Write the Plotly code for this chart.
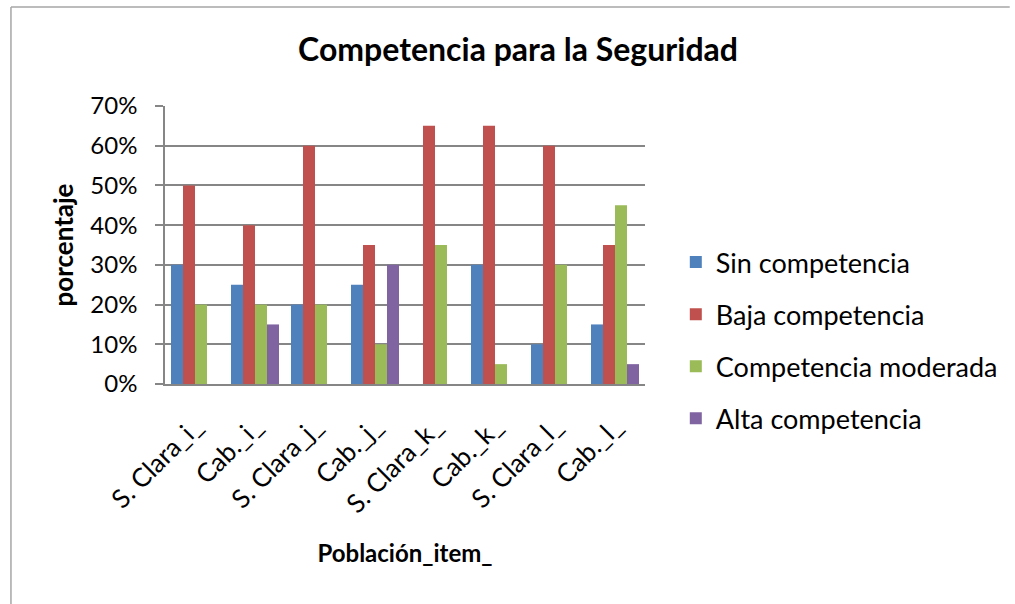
import plotly.graph_objects as go

categories = ["S. Clara_i_", "Cab._i_", "S. Clara_j_", "Cab._j_",
              "S. Clara_k_", "Cab._k_", "S. Clara_l_", "Cab._l_"]
sin_comp = [0.30, 0.25, 0.20, 0.25, 0.00, 0.30, 0.10, 0.15]
baja_comp = [0.50, 0.40, 0.60, 0.35, 0.65, 0.65, 0.60, 0.35]
moderada_comp = [0.20, 0.20, 0.20, 0.10, 0.35, 0.05, 0.30, 0.45]
alta_comp = [0.00, 0.15, 0.00, 0.30, 0.00, 0.00, 0.00, 0.05]
y_ticks = [0, 0.1, 0.2, 0.3, 0.4, 0.5, 0.6, 0.7]

series = [
    ("Sin competencia", sin_comp, "#4F81BD"),
    ("Baja competencia", baja_comp, "#C0504D"),
    ("Competencia moderada", moderada_comp, "#9BBB59"),
    ("Alta competencia", alta_comp, "#8064A2"),
]

FONT = "Lato"

fig = go.Figure()
for i, (name, vals, col) in enumerate(series):
    fig.add_trace(go.Bar(x=categories, y=vals, name=name, marker_color=col,
                         marker_line_width=0, legendgroup=str(i)))

W, H = 1015, 604
L, R, T, B = 165, 367, 106, 220
pw, ph = W - L - R, H - T - B

def px_x(p):
    return (p - L) / pw

def px_y(p):
    return (H - B - p) / ph

fig.update_layout(
    width=W, height=H,
    margin=dict(l=L, r=R, t=T, b=B),
    paper_bgcolor="white", plot_bgcolor="white",
    font=dict(family=FONT, color="#000000"),
    barmode="group", bargap=0.2, bargroupgap=0,
    title=dict(text="<b>Competencia para la Seguridad</b>", x=518 / W, xanchor="center",
               y=1 - 50 / H, yanchor="middle", font=dict(size=32, family=FONT)),
    legend=dict(x=px_x(679), xanchor="left", y=px_y(238), yanchor="top",
                font=dict(size=27, family=FONT), tracegroupgap=14,
                itemwidth=30, bgcolor="rgba(0,0,0,0)"),
    xaxis=dict(tickangle=-45, tickfont=dict(size=26, family=FONT),
               showline=True, linecolor="#868686", linewidth=1.5,
               showgrid=False, ticks="", ticklabelstandoff=15,
               title=dict(text="<b>Población_item_</b>", font=dict(size=24, family=FONT),
                          standoff=27)),
    yaxis=dict(range=[0, 0.7], tickvals=y_ticks, tickformat=".0%",
               tickfont=dict(size=24, family=FONT), ticklabelstandoff=13,
               showline=True, linecolor="#868686", linewidth=1.5,
               showgrid=True, gridcolor="#868686", gridwidth=1.5,
               ticks="outside", ticklen=8, tickcolor="#868686", tickwidth=1.5,
               zeroline=False,
               title=dict(text="<b>porcentaje</b>", font=dict(size=26, family=FONT),
                          standoff=9)),
    shapes=[
        dict(type="line", xref="paper", yref="paper",
             x0=px_x(10), x1=px_x(1015), y0=px_y(7), y1=px_y(7),
             line=dict(color="#A6A6A6", width=1.5)),
        dict(type="line", xref="paper", yref="paper",
             x0=px_x(10), x1=px_x(10), y0=px_y(7), y1=px_y(604),
             line=dict(color="#A6A6A6", width=1.5)),
    ],
)

fig.write_html("out.html", config={"displayModeBar": False},
               post_script="document.body.style.margin='0';")
